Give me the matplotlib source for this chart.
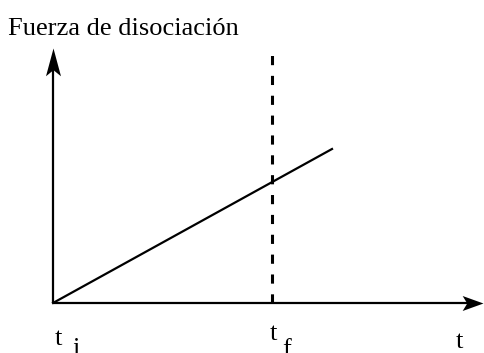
import matplotlib
matplotlib.use("Agg")
import matplotlib.pyplot as plt
from matplotlib.path import Path

# Schematic data (arbitrary units, origin at t_i)
t_line = [0, 279]          # linear growth of dissociation force
force_line = [0, 154]
t_f = 219                  # final time (dashed marker)
dash_top = 255
x_axis_end = 430
y_axis_end = 255

axis_title = "Fuerza de disociación"
x_label = "t"

plt.rcParams["font.family"] = ["Liberation Serif"]

fig = plt.figure(figsize=(4.84, 3.53), dpi=100)
ax = fig.add_axes([0, 0, 1, 1])
ax.set_xlim(-53, 431)
ax.set_ylim(-50, 303)
ax.axis("off")

lw = 1.6

def head_path(angle_deg, half_width):
    import numpy as np
    a = np.deg2rad(angle_deg)
    c, s = np.cos(a), np.sin(a)
    base = [(0, 0), (-1, half_width), (-0.78, 0), (-1, -half_width), (0, 0)]
    v = [(c * x - s * y, s * x + c * y) for x, y in base]
    codes = [Path.MOVETO, Path.LINETO, Path.LINETO, Path.LINETO, Path.CLOSEPOLY]
    return Path(v, codes)

# axes lines
ax.plot([0, x_axis_end - 12], [0, 0], color="black", lw=lw, solid_capstyle="butt")
ax.plot([0, 0], [0, y_axis_end - 15], color="black", lw=lw, solid_capstyle="butt")
# arrowheads (tip at the axis end)
ax.plot([x_axis_end], [0], marker=head_path(0, 0.36), markersize=30,
        color="black", markeredgewidth=0)
ax.plot([0], [y_axis_end], marker=head_path(90, 0.27), markersize=40,
        color="black", markeredgewidth=0)

# linear force
ax.plot(t_line, force_line, color="black", lw=lw)

# dashed line at t_f
ax.plot([t_f, t_f], [0, dash_top], color="black", lw=2.2,
        linestyle=(0, (3, 3.5)))

fs = 19
ax.text(-45, 268, axis_title, fontsize=fs, va="baseline", ha="left")
ax.text(2, -42, "t", fontsize=fs, va="baseline", ha="left")
ax.text(19, -52, "i", fontsize=fs, va="baseline", ha="left")
ax.text(217, -37, "t", fontsize=fs, va="baseline", ha="left")
ax.text(229, -53, "f", fontsize=fs, va="baseline", ha="left")
ax.text(403, -45, x_label, fontsize=fs, va="baseline", ha="left")

fig.savefig("out.png", dpi=100)
